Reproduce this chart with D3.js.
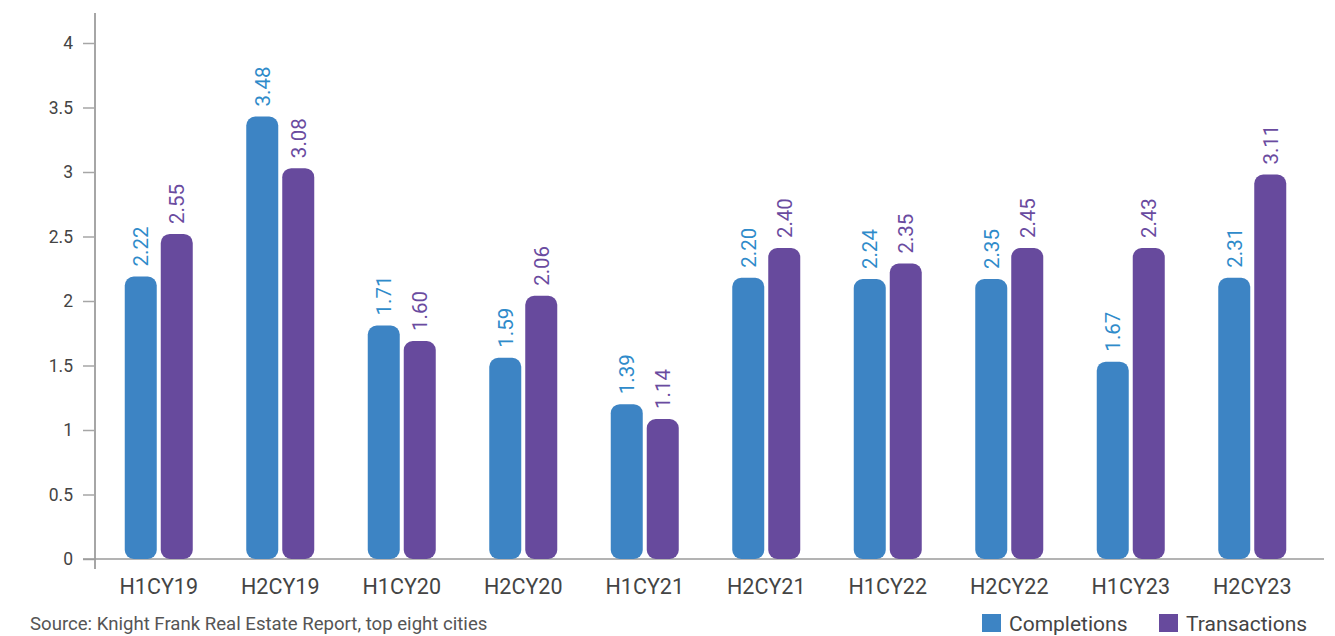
<!DOCTYPE html>
<html>
<head>
<meta charset="utf-8">
<script src="https://cdn.jsdelivr.net/npm/d3@7"></script>
<style>
  html, body { margin: 0; padding: 0; background: #fff; }
  svg { display: block; font-family: Roboto, "Noto Sans", sans-serif; }
</style>
</head>
<body>
<svg id="chart" width="1335" height="636"></svg>
<script>
// ---- data ----
const categories = ["H1CY19","H2CY19","H1CY20","H2CY20","H1CY21","H2CY21","H1CY22","H2CY22","H1CY23","H2CY23"];
const seriesNames = ["Completions","Transactions"];
// bar heights as drawn in the picture
const completions = [2.19, 3.43, 1.81, 1.56, 1.20, 2.18, 2.17, 2.17, 1.53, 2.18];
const transactions = [2.52, 3.03, 1.69, 2.04, 1.085, 2.41, 2.29, 2.41, 2.41, 2.98];
// value labels printed above the bars
const completionsLabels = ["2.22","3.48","1.71","1.59","1.39","2.20","2.24","2.35","1.67","2.31"];
const transactionsLabels = ["2.55","3.08","1.60","2.06","1.14","2.40","2.35","2.45","2.43","3.11"];
const yTicks = [0, 0.5, 1, 1.5, 2, 2.5, 3, 3.5, 4];
const sourceText = "Source: Knight Frank Real Estate Report, top eight cities";

const barColors = ["#3d84c4", "#674a9d"];
const labelColors = ["#2f8bca", "#6a4b9f"];

const svg = d3.select("#chart");
const margin = {left: 95, right: 1324, top: 13, bottom: 559};

const x0 = d3.scaleBand().domain(categories).range([98, 1313]).paddingInner(0).paddingOuter(0);
const x1 = d3.scaleBand().domain(seriesNames).range([0, 68]).paddingInner(0.111).paddingOuter(0);
const y = d3.scaleLinear().domain([0, 4]).range([559, 43]);

// y axis
const yAxis = d3.axisLeft(y).tickValues(yTicks).tickSize(12).tickPadding(10)
  .tickFormat(d => d3.format("")(d));
const gy = svg.append("g").attr("transform", `translate(${margin.left},0)`).call(yAxis);
gy.select(".domain").remove();
gy.selectAll(".tick line").attr("stroke", "#a6a6a6").attr("stroke-width", 1.5);
gy.selectAll(".tick text").attr("fill", "#444").style("font-size", "17.5px")
  .style("font-family", "Roboto, sans-serif");
svg.append("line").attr("x1", margin.left).attr("x2", margin.left)
  .attr("y1", margin.top).attr("y2", 569).attr("stroke", "#a6a6a6").attr("stroke-width", 2);

// x axis line
svg.append("line").attr("x1", 83).attr("x2", margin.right)
  .attr("y1", y(0)).attr("y2", y(0)).attr("stroke", "#9a9a9a").attr("stroke-width", 1.5);

// x labels
const gx = svg.append("g").attr("transform", `translate(0,${y(0)})`)
  .call(d3.axisBottom(x0).tickSize(0).tickPadding(20));
gx.select(".domain").remove();
gx.selectAll(".tick text").attr("fill", "#444").style("font-size", "21.5px")
  .style("font-family", "Roboto, sans-serif");

// bars
const rows = categories.map((c, i) => ({
  cat: c,
  vals: [
    {s: 0, name: seriesNames[0], v: completions[i], label: completionsLabels[i]},
    {s: 1, name: seriesNames[1], v: transactions[i], label: transactionsLabels[i]}
  ]
}));

const groups = svg.append("g").selectAll("g").data(rows).join("g")
  .attr("transform", d => `translate(${x0(d.cat) + (x0.bandwidth() - 68) / 2},0)`);

groups.selectAll("rect").data(d => d.vals).join("rect")
  .attr("x", d => x1(d.name))
  .attr("width", x1.bandwidth())
  .attr("y", d => y(d.v))
  .attr("height", d => y(0) - y(d.v))
  .attr("rx", 9).attr("ry", 9)
  .attr("fill", d => barColors[d.s]);

groups.selectAll("text").data(d => d.vals).join("text")
  .attr("transform", d => `translate(${x1(d.name) + x1.bandwidth() / 2},${y(d.v) - 10}) rotate(-90)`)
  .attr("dy", "0.36em")
  .attr("text-anchor", "start")
  .attr("fill", d => labelColors[d.s])
  .style("font-size", "20.5px")
  .text(d => d.label);

// source
svg.append("text").attr("x", 30).attr("y", 630).attr("fill", "#555")
  .style("font-size", "18.6px").text(sourceText);

// legend
const legendX = [982, 1159];
const lg = svg.append("g").selectAll("g").data(seriesNames).join("g")
  .attr("transform", (d, i) => `translate(${legendX[i]},614)`);
lg.append("rect").attr("width", 19).attr("height", 18).attr("fill", (d, i) => barColors[i]);
lg.append("text").attr("x", 27).attr("y", 17).attr("fill", "#444")
  .style("font-size", "21px").text(d => d);
</script>
</body>
</html>
